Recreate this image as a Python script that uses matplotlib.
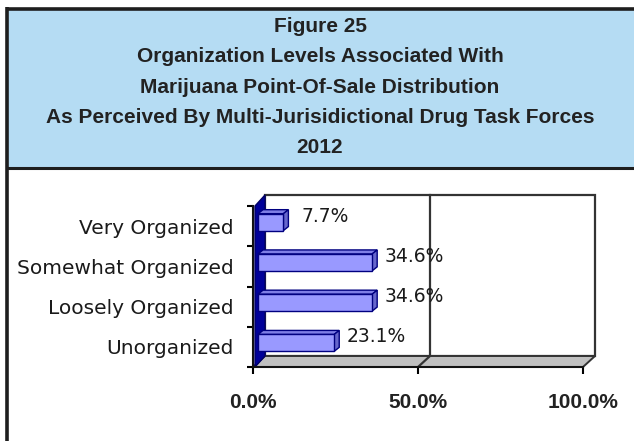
import numpy as np
import matplotlib
matplotlib.use('Agg')
import matplotlib.pyplot as plt
from matplotlib.patches import Polygon, Rectangle
from matplotlib.transforms import IdentityTransform, ScaledTranslation

# chart data
categories = ['Very Organized', 'Somewhat Organized', 'Loosely Organized', 'Unorganized']
values = [7.7, 34.6, 34.6, 23.1]
xticks = [0, 50, 100]
xtick_labels = ['0.0%', '50.0%', '100.0%']
title_lines = ['Figure 25',
               'Organization Levels Associated With',
               'Marijuana Point-Of-Sale Distribution',
               'As Perceived By Multi-Jurisidictional Drug Task Forces',
               '2012']

W, H = 634, 441
fig = plt.figure(figsize=(W / 100, H / 100), dpi=100)

# frame + blue header, drawn in pixel units
bg = fig.add_axes([0, 0, 1, 1], zorder=-2)
bg.set_xlim(0, W)
bg.set_ylim(H, 0)
bg.axis('off')
bg.add_patch(Rectangle((6, 9), W - 6, 159, facecolor='#b5dcf3', edgecolor='none'))
bg.plot([6, W], [8.5, 8.5], color='#1e1e1e', lw=2.6, solid_capstyle='butt')
bg.plot([6, W], [168, 168], color='#1e1e1e', lw=2.2, solid_capstyle='butt')
bg.plot([6.5, 6.5], [7, H], color='#1e1e1e', lw=2.6, solid_capstyle='butt')
for i, line in enumerate(title_lines):
    bg.text(320, 32 + i * 30.3, line, ha='center', va='baseline',
            fontsize=15, fontweight='bold', family='Liberation Sans', color='#222222')

# front plane of the 3d box
x0, x1 = 253, 583
ytop, ybot = 206, 367
ax = fig.add_axes([x0 / W, 1 - ybot / H, (x1 - x0) / W, (ybot - ytop) / H])
ax.set_xlim(0, 100)
ax.set_ylim(len(categories) - 0.5, -0.5)
ax.autoscale(False)
ax.patch.set_visible(False)

depth = (12, 11)     # box depth in pixels (right, up)
bar_off = (5, 4)     # bars sit a bit behind the front plane
bar_depth = (5, 4)


def px(x, y, dx=0, dy=0):
    p = ax.transData.transform((x, y))
    return (p[0] + dx, p[1] + dy)


yb, yt = len(categories) - 0.5, -0.5
# back wall
back = [px(0, yb, *depth), px(100, yb, *depth), px(100, yt, *depth), px(0, yt, *depth)]
ax.add_patch(Polygon(back, closed=True, facecolor='white', edgecolor='#333333', lw=1.6,
                     transform=IdentityTransform(), clip_on=False, zorder=0.5))
# floor
floor = [px(0, yb), px(100, yb), px(100, yb, *depth), px(0, yb, *depth)]
ax.add_patch(Polygon(floor, closed=True, facecolor='#c0c0c0', edgecolor='#333333', lw=1.4,
                     transform=IdentityTransform(), clip_on=False, zorder=0.6))
# gridline on back wall and floor
for t in xticks[1:-1]:
    g = [px(t, yb), px(t, yb, *depth), px(t, yt, *depth)]
    ax.plot([p[0] for p in g], [p[1] for p in g], color='#333333', lw=1.6,
            transform=IdentityTransform(), clip_on=False, zorder=0.7)
# left side wall
side = [px(0, yb, 2, 0), px(0, yb, *depth), px(0, yt, *depth), px(0, yt, 2, 0)]
ax.add_patch(Polygon(side, closed=True, facecolor='#000099', edgecolor='#000066', lw=1,
                     transform=IdentityTransform(), clip_on=False, zorder=0.8))

# bars with top and end faces
ypos = np.arange(len(categories))
shift = ax.transData + ScaledTranslation(bar_off[0] / 100, bar_off[1] / 100, fig.dpi_scale_trans)
bh = 0.42
bars = ax.barh(ypos, values, height=bh, color='#9999ff', edgecolor='#000080', lw=1,
               transform=shift, zorder=3)
for yy, v in zip(ypos, values):
    ox, oy = bar_off
    dx, dy = bar_depth
    top = [px(0, yy - bh / 2, ox, oy), px(v, yy - bh / 2, ox, oy),
           px(v, yy - bh / 2, ox + dx, oy + dy), px(0, yy - bh / 2, ox + dx, oy + dy)]
    end = [px(v, yy + bh / 2, ox, oy), px(v, yy - bh / 2, ox, oy),
           px(v, yy - bh / 2, ox + dx, oy + dy), px(v, yy + bh / 2, ox + dx, oy + dy)]
    ax.add_patch(Polygon(top, closed=True, facecolor='#7f7fe6', edgecolor='#000080', lw=1,
                         transform=IdentityTransform(), clip_on=False, zorder=2.9))
    ax.add_patch(Polygon(end, closed=True, facecolor='#6666cc', edgecolor='#000080', lw=1,
                         transform=IdentityTransform(), clip_on=False, zorder=2.9))
    ax.annotate(f'{v:.1f}%', (v, yy), xytext=(47, 10), textcoords='offset pixels',
                ha='center', va='center', fontsize=13.5, family='DejaVu Sans',
                color='#1a1a1a', zorder=4)

# axes lines and ticks
for s in ['top', 'right']:
    ax.spines[s].set_visible(False)
for s in ['left', 'bottom']:
    ax.spines[s].set_linewidth(1.5)
    ax.spines[s].set_color('#111111')
ax.set_xticks(xticks)
ax.set_xticklabels(xtick_labels, fontsize=15, fontweight='bold', family='Liberation Sans',
                   color='#222222')
ax.tick_params(axis='x', length=5, width=1.5, pad=14)
ax.set_yticks(np.arange(len(categories) + 1) - 0.5)
ax.set_yticklabels([])
ax.set_yticks(ypos, minor=True)
ax.set_yticklabels(categories, minor=True, fontsize=14.5, family='DejaVu Sans', color='#1a1a1a')
ax.tick_params(axis='y', which='major', length=4, width=1.5)
ax.tick_params(axis='y', which='minor', length=0, pad=14)

fig.savefig('out.png', dpi=100)
